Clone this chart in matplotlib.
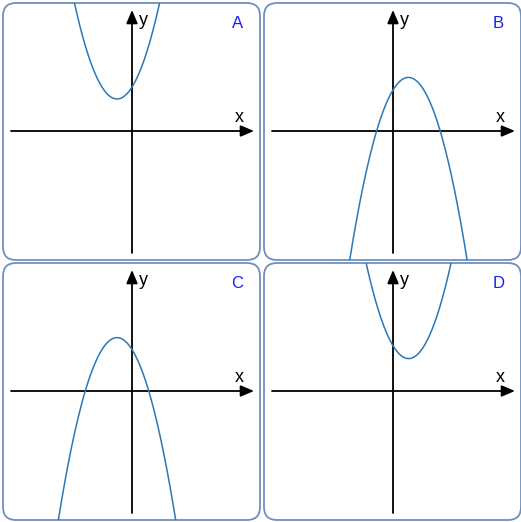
import numpy as np
import matplotlib
matplotlib.use("Agg")
import matplotlib.pyplot as plt
from matplotlib.patches import FancyBboxPatch

plt.rcParams["font.family"] = ["Liberation Sans", "DejaVu Sans"]

# four parabolas y = a*(x - h)**2 + k, one per panel
panel_labels = ["A", "B", "C", "D"]
curvature = [1.06, -1.06, -1.06, 1.06]
vertex_x = [-0.75, 0.77, -0.75, 0.78]
vertex_y = [1.6, 2.68, 2.67, 1.62]

W, H = 521, 522
fig = plt.figure(figsize=(W / 100, H / 100), dpi=100)

# box positions in pixels (left, top), size 257
boxes = [(3, 3), (264, 3), (3, 263), (264, 263)]
size = 257
lo, hi = -6.45, 6.4

curve_color = "#2b78b6"
border_color = "#6f8fbf"

for i, label in enumerate(panel_labels):
    left, top = boxes[i]
    ax = fig.add_axes([left / W, 1 - (top + size) / H, size / W, size / H])
    ax.set_xlim(lo, hi)
    ax.set_ylim(lo, hi)
    ax.axis("off")

    box = FancyBboxPatch((lo, lo), hi - lo, hi - lo,
                         boxstyle="round,pad=0,rounding_size=0.65",
                         fc="white", ec=border_color, lw=1.3,
                         clip_on=False, zorder=0)
    ax.add_patch(box)

    # coordinate axes with arrow heads
    arrow = dict(arrowstyle="-|>,head_length=0.4,head_width=0.17",
                 mutation_scale=20, lw=1.3, color="black",
                 shrinkA=0, shrinkB=0)
    ax.annotate("", xy=(6.1, 0), xytext=(-6.05, 0), arrowprops=arrow)
    ax.annotate("", xy=(0, 6.05), xytext=(0, -6.1), arrowprops=arrow)
    ax.text(5.37, 0.45, "x", fontsize=13, ha="center", va="baseline")
    ax.text(0.55, 5.3, "y", fontsize=13, ha="center", va="baseline")
    ax.text(0.912, 0.919, label, transform=ax.transAxes, fontsize=12,
            color="#1a1aff", ha="center", va="center")

    x = np.linspace(-7, 7, 500)
    y = curvature[i] * (x - vertex_x[i]) ** 2 + vertex_y[i]
    line, = ax.plot(x, y, color=curve_color, lw=1.1, zorder=3)
    line.set_clip_path(box)

fig.savefig("out.png", dpi=100)
